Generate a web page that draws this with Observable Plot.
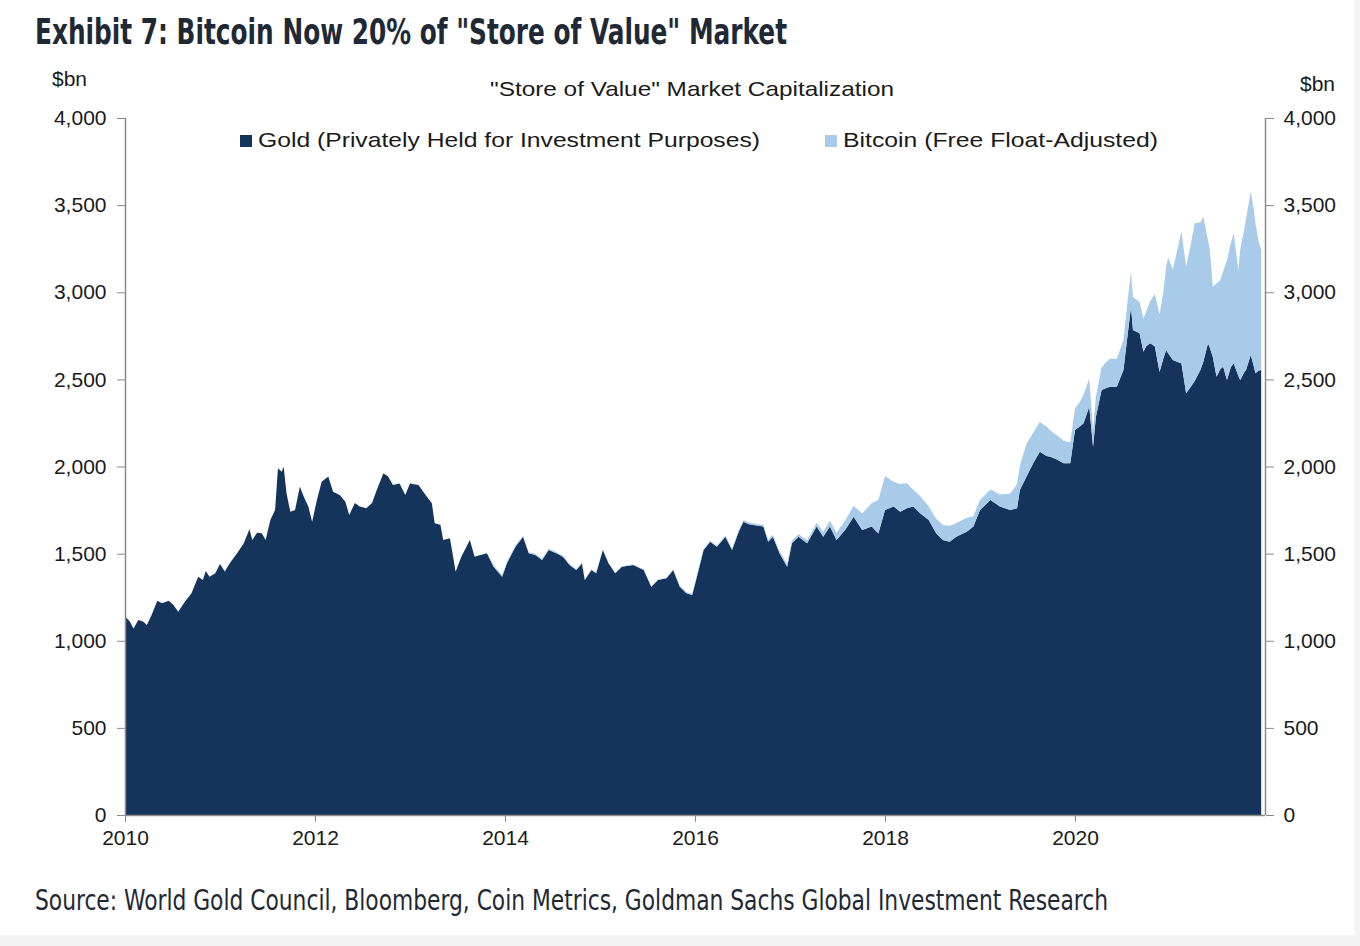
<!DOCTYPE html>
<html>
<head>
<meta charset="utf-8">
<script src="https://cdn.jsdelivr.net/npm/d3@7"></script>
<script src="https://cdn.jsdelivr.net/npm/@observablehq/plot@0.6"></script>
<style>
  body { margin: 0; background: #f4f4f4; }
  #page { position: relative; width: 1354px; height: 935px; background: #fff; overflow: hidden; }
  .abs { position: absolute; white-space: nowrap; transform-origin: 0 0; }
  .cht { font-family: "Liberation Sans", Arial, sans-serif; color: #1a1a1a; font-size: 21px; }
  .sq { position: absolute; width: 12px; height: 12px; }
</style>
</head>
<body>
<div id="page">
  <div id="title" class="abs" style="left:35px;top:12px;font-family:'Liberation Sans Narrow','DejaVu Sans Condensed',sans-serif;font-weight:bold;font-size:35px;color:#1e2935;">Exhibit 7: Bitcoin Now 20% of "Store of Value" Market</div>
  <div id="chart" class="abs" style="left:0;top:60px;"></div>
  <div id="ylabL" class="abs cht" style="left:52px;top:67px;">$bn</div>
  <div id="ylabR" class="abs cht" style="left:1300px;top:72px;">$bn</div>
  <div id="sub" class="abs cht" style="left:490px;top:77px;">"Store of Value" Market Capitalization</div>
  <div id="legend"></div>
  <div id="caption" class="abs" style="left:35px;top:884px;font-family:'Liberation Sans Narrow','DejaVu Sans Condensed',sans-serif;font-size:28px;color:#1e2935;">Source: World Gold Council, Bloomberg, Coin Metrics, Goldman Sachs Global Investment Research</div>
</div>
<script>
// ---- data, $bn ----
const seriesNames = ["Gold (Privately Held for Investment Purposes)", "Bitcoin (Free Float-Adjusted)"];
const seriesColors = ["#15345c", "#a9cbea"];

const years = [
  2010.00,2010.05,2010.09,2010.14,2010.19,2010.23,2010.28,2010.34,2010.39,2010.46,2010.51,2010.56,2010.63,2010.70,2010.77,2010.82,2010.85,2010.89,2010.95,
  2011.00,2011.05,2011.11,2011.18,2011.25,2011.31,2011.34,2011.39,2011.44,2011.48,2011.53,2011.58,2011.61,2011.65,2011.67,2011.70,2011.74,2011.79,2011.84,2011.89,2011.93,2011.97,
  2012.02,2012.07,2012.14,2012.19,2012.26,2012.32,2012.36,2012.42,2012.47,2012.54,2012.60,2012.65,2012.72,2012.77,2012.82,2012.89,2012.95,
  2013.00,2013.09,2013.16,2013.23,2013.26,2013.32,2013.35,2013.42,2013.46,2013.48,2013.54,2013.63,2013.68,2013.74,2013.81,2013.88,2013.97,
  2014.02,2014.11,2014.19,2014.25,2014.32,2014.39,2014.46,2014.54,2014.61,2014.68,2014.75,2014.81,2014.84,2014.91,2014.96,
  2015.03,2015.09,2015.16,2015.23,2015.35,2015.46,2015.54,2015.61,2015.70,2015.77,2015.84,2015.91,2015.97,
  2016.02,2016.09,2016.16,2016.23,2016.32,2016.39,2016.46,2016.51,2016.56,2016.61,2016.67,2016.72,2016.77,2016.82,2016.89,2016.97,
  2017.02,2017.09,2017.18,2017.28,2017.35,2017.42,2017.49,2017.58,2017.67,2017.76,2017.86,2017.93,
  2018.00,2018.09,2018.16,2018.23,2018.30,2018.37,2018.46,2018.54,2018.61,2018.68,2018.75,2018.86,2018.93,
  2019.00,2019.11,2019.21,2019.32,2019.39,2019.42,2019.49,2019.56,2019.63,2019.70,2019.74,2019.81,2019.88,2019.95,
  2020.00,2020.05,2020.09,2020.15,2020.19,2020.22,2020.28,2020.33,2020.37,2020.44,2020.51,2020.56,2020.59,2020.61,2020.68,2020.72,2020.75,2020.79,2020.84,2020.89,2020.93,2020.96,2020.98,
  2021.03,2021.08,2021.12,2021.17,2021.21,2021.26,2021.32,2021.35,2021.40,2021.42,2021.45,2021.49,2021.53,2021.56,2021.60,2021.64,2021.67,2021.72,2021.74,2021.78,2021.80,2021.85,2021.88,2021.90,2021.93,2021.96
];

const gold = [
  1140,1110,1071,1119,1110,1090,1148,1230,1215,1230,1205,1167,1224,1272,1368,1349,1401,1368,1388,
  1440,1397,1450,1502,1559,1640,1578,1620,1617,1578,1693,1750,1990,1970,1999,1846,1741,1750,1884,1817,1770,1683,
  1808,1913,1942,1855,1836,1798,1722,1790,1770,1760,1790,1865,1961,1942,1894,1903,1836,
  1903,1894,1840,1789,1674,1665,1578,1588,1463,1396,1482,1578,1482,1492,1502,1425,1368,
  1445,1540,1597,1502,1492,1463,1521,1502,1482,1435,1406,1444,1349,1406,1387,
  1521,1445,1387,1425,1435,1406,1310,1349,1358,1406,1310,1272,1262,
  1368,1521,1568,1540,1597,1521,1626,1683,1670,1664,1660,1655,1568,1597,1502,1425,
  1559,1597,1559,1655,1597,1655,1578,1636,1712,1636,1655,1616,
  1750,1770,1741,1760,1770,1731,1693,1616,1578,1568,1597,1626,1655,
  1750,1808,1770,1750,1760,1865,1942,2018,2085,2060,2056,2040,2018,2018,
  2209,2230,2248,2343,2114,2286,2439,2450,2458,2458,2554,2783,2917,2783,2764,2659,2690,2707,2690,2543,2620,2669,2650,
  2611,2600,2592,2420,2450,2490,2554,2600,2707,2680,2630,2515,2560,2573,2496,2570,2592,2520,2496,2540,2554,2640,2580,2535,2550,2554
];

const bitcoin = [
  0,0,0,0,0,0,0,0,0,0,0,0,0,0,0,0,0,0,0,
  0,0,0,0,0,0,0,0,0,0,0,0,0,0,0,0,0,0,0,0,0,0,
  0,0,0,0,0,0,0,0,0,0,0,0,0,0,0,0,0,
  0,0,0,0,0,0,0,0,0,0,0,0,0,0,2,8,8,
  9,7,6,6,7,7,8,7,6,6,5,5,5,4,4,
  3,3,3,3,3,4,4,3,3,4,5,6,6,
  6,6,6,7,7,7,9,10,10,10,9,10,11,12,13,14,
  15,16,18,22,28,35,42,54,63,94,135,192,
  195,143,159,144,95,99,77,84,86,92,77,80,60,
  58,60,70,95,140,140,190,175,170,170,150,140,130,120,
  125,140,165,160,95,115,130,150,160,160,170,200,200,190,180,190,200,240,300,330,380,480,550,
  520,650,756,727,800,906,846,834,593,563,402,535,510,547,689,710,746,608,754,817,866,937,900,861,750,689
];

const yTicks = [0,500,1000,1500,2000,2500,3000,3500,4000];
const xTicks = [2010,2012,2014,2016,2018,2020];

if (years.length !== gold.length || years.length !== bitcoin.length) {
  throw new Error(`length mismatch: ${years.length} ${gold.length} ${bitcoin.length}`);
}

const rows = years.flatMap((t, i) => [
  {year: t, series: seriesNames[0], value: gold[i]},
  {year: t, series: seriesNames[1], value: bitcoin[i]}
]);

const axisGray = "#8a8a8a";
const fmtY = d3.format(",");
const fmtX = d3.format("d");
const chart = Plot.plot({
  width: 1354,
  height: 820,
  marginTop: 58,
  marginBottom: 65,
  marginLeft: 125,
  marginRight: 89,
  x: {domain: [2010, 2022]},
  y: {domain: [0, 4000]},
  color: {domain: seriesNames, range: seriesColors},
  style: {fontFamily: "'Liberation Sans', Arial, sans-serif", fontSize: "21px", color: "#1a1a1a", background: "transparent", overflow: "visible"},
  marks: [
    Plot.areaY(rows, {x: "year", y: "value", fill: "series", z: "series", order: seriesNames}),
    Plot.ruleX([2010, 2022], {stroke: axisGray, strokeWidth: 1.5}),
    Plot.ruleY([0], {stroke: axisGray, strokeWidth: 1.5}),
    Plot.axisY({anchor: "left", ticks: yTicks, tickFormat: fmtY, tickSize: 8, tickPadding: 11, stroke: axisGray, fill: "#1a1a1a", label: null}),
    Plot.axisY({anchor: "right", ticks: yTicks, tickFormat: fmtY, tickSize: 8, tickPadding: 10, stroke: axisGray, fill: "#1a1a1a", label: null}),
    Plot.axisX({anchor: "bottom", ticks: xTicks, tickFormat: fmtX, tickSize: 7, tickPadding: 8, stroke: axisGray, fill: "#1a1a1a", label: null})
  ]
});
document.getElementById("chart").appendChild(chart);

// legend (HTML, above the plot)
const legend = document.getElementById("legend");
const legendPos = [{sq: 240, tx: 258, w: 502}, {sq: 825, tx: 843, w: 315}];
seriesNames.forEach((name, i) => {
  const sq = document.createElement("div");
  sq.className = "sq";
  sq.style.left = legendPos[i].sq + "px";
  sq.style.top = "135px";
  sq.style.background = seriesColors[i];
  legend.appendChild(sq);
  const tx = document.createElement("div");
  tx.className = "abs cht";
  tx.id = "leg" + i;
  tx.style.left = legendPos[i].tx + "px";
  tx.style.top = "128px";
  tx.textContent = name;
  legend.appendChild(tx);
});

// fit text widths to the reference layout
function fitWidth(id, w) {
  const el = document.getElementById(id);
  const cur = el.getBoundingClientRect().width;
  if (cur > 0) el.style.transform = `scaleX(${w / cur})`;
}
fitWidth("title", 752);
fitWidth("caption", 1073);
fitWidth("sub", 404);
fitWidth("leg0", 502);
fitWidth("leg1", 315);
</script>
</body>
</html>
